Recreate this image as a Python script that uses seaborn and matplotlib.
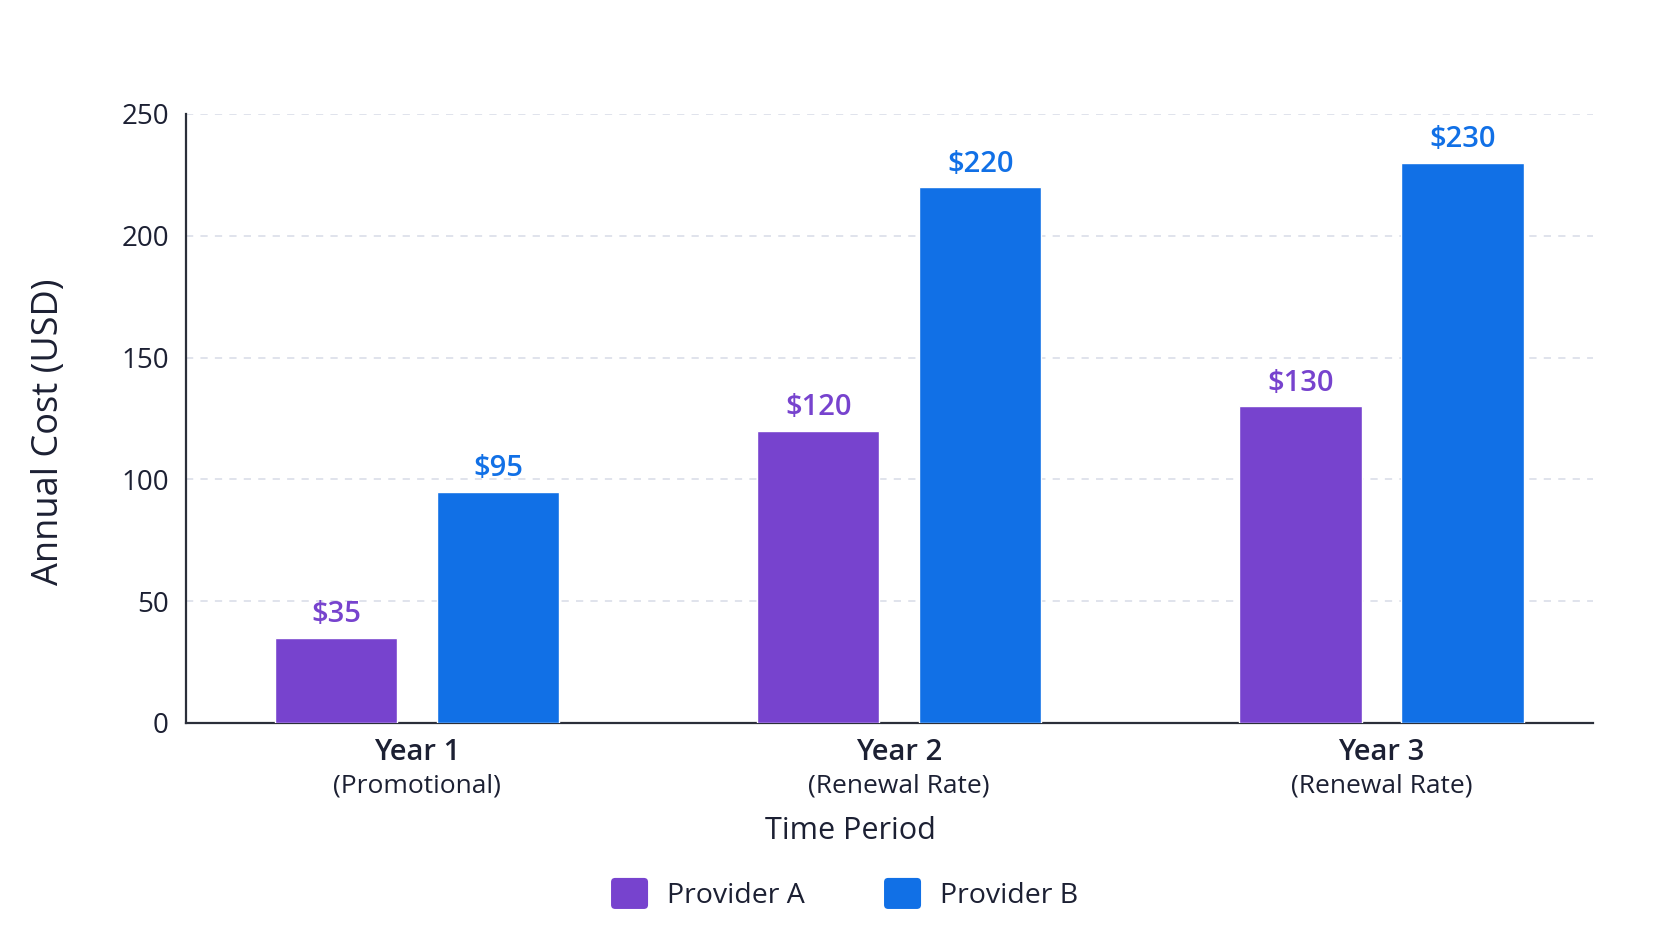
import numpy as np
import pandas as pd
import matplotlib
matplotlib.use("Agg")
import matplotlib.pyplot as plt
import matplotlib.transforms as mtransforms
from matplotlib.patches import FancyBboxPatch, Patch
from matplotlib.legend_handler import HandlerPatch
import seaborn as sns

# data
periods = ["Year 1", "Year 2", "Year 3"]
period_notes = ["(Promotional)", "(Renewal Rate)", "(Renewal Rate)"]
providers = ["Provider A", "Provider B"]
provider_a = [35, 120, 130]
provider_b = [95, 220, 230]
y_ticks = [0, 50, 100, 150, 200, 250]

colors = ["#7743CE", "#1170E6"]
text_dark = "#1c2033"

df = pd.DataFrame({
    "period": periods * 2,
    "provider": [providers[0]] * 3 + [providers[1]] * 3,
    "cost": provider_a + provider_b,
})

sns.set_style("white")
plt.rcParams["font.family"] = ["Open Sans", "DejaVu Sans"]

fig = plt.figure(figsize=(16.72, 9.41), dpi=100)
ax = fig.add_axes([0.111, 0.2317, 0.842, 0.6472])

sns.barplot(data=df, x="period", y="cost", hue="provider", order=periods,
            hue_order=providers, palette=colors, width=0.672, gap=0.244,
            saturation=1, legend=False, ax=ax, zorder=3)

# value labels above each bar
for cont, vals, c in zip(ax.containers, [provider_a, provider_b], colors):
    ax.bar_label(cont, labels=[f"${v}" for v in vals], padding=6,
                 color=c, fontsize=21, fontweight="semibold")

ax.set_ylim(0, 250)
ax.set_xlim(-0.48, 2.44)
ax.set_yticks(y_ticks)
ax.yaxis.grid(True, linestyle=(0, (4, 4)), color="#dde1ea", linewidth=1.3, zorder=0)
ax.xaxis.grid(False)

for s in ["top", "right"]:
    ax.spines[s].set_visible(False)
for s in ["left", "bottom"]:
    ax.spines[s].set_color("#2b2f3a")
    ax.spines[s].set_linewidth(1.6)

ax.tick_params(axis="y", length=5, width=1.4, color="#2b2f3a", labelsize=20,
               labelcolor=text_dark, pad=7)
ax.tick_params(axis="x", length=3, width=1.0, color="#2b2f3a", labelsize=21,
               labelcolor=text_dark, pad=8)
ax.set_xticks(range(len(periods)))
ax.set_xticklabels(periods, fontweight="semibold")

trans = mtransforms.blended_transform_factory(ax.transData, ax.transAxes)
for i, note in enumerate(period_notes):
    ax.text(i, -0.103, note, transform=trans, ha="center", va="center",
            fontsize=19, color=text_dark)

ax.set_xlabel("Time Period", fontsize=22, color=text_dark)
ax.xaxis.set_label_coords(0.472, -0.152)
ax.set_ylabel("Annual Cost (USD)", fontsize=26, color=text_dark)
ax.yaxis.set_label_coords(-0.084, 0.478)


class RoundHandler(HandlerPatch):
    def create_artists(self, legend, orig_handle, xdescent, ydescent,
                       width, height, fontsize, trans):
        p = FancyBboxPatch((-xdescent + 2, -ydescent + 2), width - 4, height - 4,
                           boxstyle="round,pad=2,rounding_size=3",
                           facecolor=orig_handle.get_facecolor(),
                           edgecolor="none", transform=trans)
        return [p]


handles = [Patch(facecolor=c, label=p) for c, p in zip(colors, providers)]
fig.legend(handles=handles, loc="center", bbox_to_anchor=(0.505, 0.05), ncol=2,
           frameon=False, fontsize=20.5, handlelength=1.3, handleheight=1.3,
           columnspacing=2.8, handletextpad=0.65, labelcolor=text_dark,
           handler_map={Patch: RoundHandler()})

fig.savefig("out.png", dpi=100, facecolor="white")
